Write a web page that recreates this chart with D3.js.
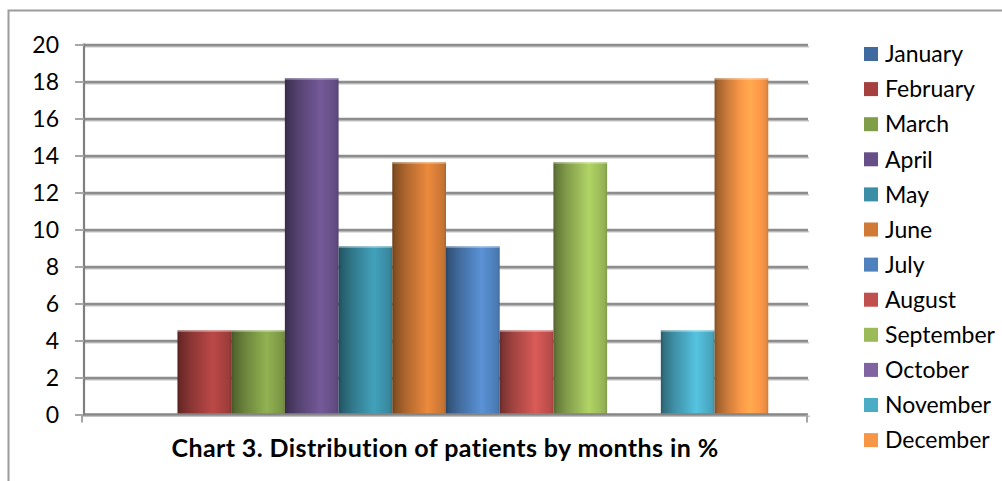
<!DOCTYPE html>
<html>
<head>
<meta charset="utf-8">
<script src="https://cdn.jsdelivr.net/npm/d3@7/dist/d3.min.js"></script>
<style>
  html, body { margin: 0; padding: 0; background: #ffffff; }
  svg { display: block; }
  text { font-family: Lato, "Open Sans", sans-serif; fill: #000; font-variant-ligatures: none; }
</style>
</head>
<body>
<script>
// Share of patients per month, in percent (22 patients in total)
const months = ["January", "February", "March", "April", "May", "June",
                "July", "August", "September", "October", "November", "December"];
const shares = [0, 4.55, 4.55, 18.18, 9.09, 13.64, 9.09, 4.55, 13.64, 0, 4.55, 18.18];
const colors = ["#3f6aa0", "#a5403e", "#809d48", "#664f87", "#3a8ea5", "#d07a36",
                "#4f81bd", "#c0504d", "#9bbb59", "#8064a2", "#4bacc6", "#f79646"];
const yTicks = [0, 2, 4, 6, 8, 10, 12, 14, 16, 18, 20];
const title = "Chart 3. Distribution of patients by months in %";

const W = 1002, H = 481;
const plot = { left: 84, right: 808, top: 44.5, bottom: 414.5 };

const svg = d3.select("body").append("svg").attr("width", W).attr("height", H);
const defs = svg.append("defs");

// outer chart frame (right and bottom edges fall outside the view)
svg.append("path")
  .attr("d", `M8.5,${H + 2} V10.5 H${W + 2}`)
  .attr("fill", "none").attr("stroke", "#9c9c9c").attr("stroke-width", 2);

const y = d3.scaleLinear().domain([0, 20]).range([plot.bottom, plot.top]);
const x = d3.scaleBand().domain(months).range([plot.left, plot.right])
  .paddingInner(0).paddingOuter(0.74);

// gridlines: dark line with a light shade beneath
const gridShade = svg.append("g")
  .attr("transform", `translate(${plot.left},1.8)`)
  .call(d3.axisLeft(y).tickValues(yTicks.slice(1)).tickSize(-(plot.right - plot.left) - 1).tickFormat(""));
gridShade.select(".domain").remove();
gridShade.selectAll("line").attr("stroke", "#c4c4c4").attr("stroke-width", 1.4);

const grid = svg.append("g")
  .attr("transform", `translate(${plot.left},0)`)
  .call(d3.axisLeft(y).tickValues(yTicks.slice(1)).tickSize(-(plot.right - plot.left)).tickFormat(""));
grid.select(".domain").remove();
grid.selectAll("line").attr("stroke", "#8d8d8d").attr("stroke-width", 2.4);

// cylinder-like horizontal shading for each bar colour
colors.forEach((c, i) => {
  const base = d3.color(c);
  const g = defs.append("linearGradient").attr("id", "bar" + i)
    .attr("x1", "0").attr("x2", "1").attr("y1", "0").attr("y2", "0");
  [[0, base.darker(1.8)], [0.06, base.darker(1.2)], [0.25, base.darker(0.5)],
   [0.5, base.brighter(0.05)], [0.66, base.brighter(0.35)], [0.82, base.brighter(0.1)],
   [0.95, base.darker(0.15)], [1, base.darker(0.55)]]
    .forEach(([o, col]) => g.append("stop").attr("offset", o).attr("stop-color", col.formatHex()));
});

const bars = svg.append("g").selectAll("g.bar")
  .data(months.map((m, i) => ({ m, v: shares[i], i })).filter(d => d.v > 0))
  .join("g").attr("class", "bar");

bars.append("rect")
  .attr("x", d => x(d.m))
  .attr("y", d => y(d.v))
  .attr("width", x.bandwidth())
  .attr("height", d => y(0) - y(d.v))
  .attr("fill", d => `url(#bar${d.i})`);

// light rim along the top of each bar
bars.append("rect")
  .attr("x", d => x(d.m))
  .attr("y", d => y(d.v))
  .attr("width", x.bandwidth())
  .attr("height", 1.6)
  .attr("fill", "#ffffff").attr("opacity", 0.35);

// value axis
const yAxis = svg.append("g")
  .attr("transform", `translate(${plot.left},0)`)
  .call(d3.axisLeft(y).tickValues(yTicks).tickSize(9).tickPadding(16));
yAxis.select(".domain")
  .attr("d", `M0,${plot.top - 1}V${plot.bottom + 1}`)
  .attr("stroke", "#7f7f7f").attr("stroke-width", 2.2);
yAxis.selectAll(".tick line").attr("stroke", "#a6a6a6").attr("stroke-width", 2);
yAxis.selectAll(".tick text")
  .attr("font-size", 23).attr("dy", "0.36em")
  .style("font-family", "Lato, 'Open Sans', sans-serif");

// category axis
const xAxis = svg.append("g")
  .attr("transform", `translate(0,${plot.bottom})`);
xAxis.append("line")
  .attr("x1", plot.left - 1).attr("x2", plot.right + 2)
  .attr("y1", 1.8).attr("y2", 1.8)
  .attr("stroke", "#c4c4c4").attr("stroke-width", 1.4);
xAxis.append("line")
  .attr("x1", plot.left - 1).attr("x2", plot.right)
  .attr("y1", 0).attr("y2", 0)
  .attr("stroke", "#858585").attr("stroke-width", 2.4);
xAxis.selectAll("line.edge")
  .data(x.range())
  .join("line").attr("class", "edge")
  .attr("x1", d => d < plot.right ? d - 2 : d - 1).attr("x2", d => d < plot.right ? d - 2 : d - 1)
  .attr("y1", 0).attr("y2", 8)
  .attr("stroke", "#a6a6a6").attr("stroke-width", 2);

// title
svg.append("text")
  .attr("x", 445).attr("y", 457)
  .attr("text-anchor", "middle")
  .attr("font-size", 25).attr("font-weight", "bold")
  .attr("letter-spacing", 0.4)
  .text(title);

// legend
const legend = svg.append("g").selectAll("g")
  .data(months)
  .join("g")
  .attr("transform", (d, i) => `translate(864,${54 + i * 35.1})`);
legend.append("rect")
  .attr("x", 0).attr("y", -7).attr("width", 14).attr("height", 14)
  .attr("fill", (d, i) => colors[i]);
legend.append("text")
  .attr("x", 21).attr("y", 0).attr("dy", "0.36em")
  .attr("font-size", 23)
  .text(d => d);
</script>
</body>
</html>
